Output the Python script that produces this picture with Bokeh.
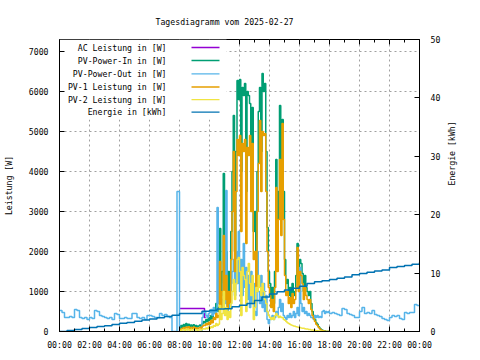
import numpy as np
from bokeh.plotting import figure
from bokeh.models import Range1d, LinearAxis, FixedTicker
from bokeh.embed import file_html
from bokeh.resources import INLINE

FONT = "DejaVu Sans Mono"
FS = "8.2px"

chart_title = "Tagesdiagramm vom 2025-02-27"
y_label = "Leistung [W]"
y2_label = "Energie [kWh]"
hour_ticks = list(range(0, 25, 2))
hour_minor = list(range(0, 25))
hour_labels = ["00:00", "02:00", "04:00", "06:00", "08:00", "10:00", "12:00",
               "14:00", "16:00", "18:00", "20:00", "22:00", "00:00"]
power_ticks = [0, 1000, 2000, 3000, 4000, 5000, 6000, 7000]
energy_ticks = [0, 10, 20, 30, 40, 50]

series_names = ["AC Leistung in [W]", "PV-Power-In in [W]", "PV-Power-Out in [W]",
                "PV-1 Leistung in [W]", "PV-2 Leistung in [W]", "Energie in [kWh]"]
series_colors = ["#9400d3", "#009e73", "#56b4e9", "#e69f00", "#f0e442", "#0072b2"]

# PV-Power-Out, 00:00-07:50 every 10 min
pvout_am = [525, 475, 350, 350, 375, 350,
            550, 525, 350, 325, 350, 300,
            350, 325, 525, 500, 400, 375,
            350, 325, 350, 300, 450, 425,
            325, 325, 350, 325, 325, 450,
            450, 350, 325, 350, 300, 400,
            400, 375, 350, 350, 450, 400,
            425, 375, 350, 0, 0, 3500]

# daytime, 08:00-18:00 every 5 min
pv_in_day = [80, 150, 100, 175, 120, 200, 140, 180, 110, 160, 130, 170,
             120, 150, 110, 140, 160, 130, 200, 250, 220, 300, 250, 350,
             280, 400, 320, 500, 450, 700, 500, 600, 2575, 900, 1500, 3950,
             1200, 2000, 800, 1500, 1000, 2500, 4000, 5400, 2000, 4500, 6275, 5800,
             6300, 4000, 6100, 5900, 6200, 3500, 6000, 5900, 5700, 4200, 5600, 2500,
             3000, 1500, 4000, 5500, 6100, 4500, 6450, 6000, 6200, 4500, 2600, 1500,
             1200, 800, 1100, 700, 1500, 4300, 2000, 3500, 5650, 3000, 5300, 3500,
             1800, 1200, 1300, 900, 1100, 800, 1200, 900, 1000, 1400, 2200, 1300,
             1800, 1700, 1450, 1000, 1400, 1100, 1000, 900, 1000, 700, 500, 400,
             300, 220, 180, 120, 80, 50, 30, 20, 10, 0, 0, 0,
             0]
pv1_day = [40, 60, 80, 100, 70, 110, 90, 120, 70, 100, 80, 110,
           75, 95, 70, 90, 100, 80, 130, 160, 150, 200, 170, 230,
           180, 280, 220, 350, 300, 450, 350, 400, 1750, 600, 1000, 2400,
           800, 1400, 550, 1000, 700, 1800, 3000, 4500, 1500, 3500, 4800, 4400,
           4900, 2500, 4700, 4500, 4800, 2200, 4600, 4400, 4900, 3000, 4700, 1800,
           2000, 1000, 3000, 4200, 5275, 3500, 5000, 4900, 4950, 3500, 2000, 1100,
           900, 600, 800, 500, 1100, 3600, 1500, 2800, 4300, 2400, 5200, 2800,
           1400, 900, 1000, 700, 850, 600, 950, 700, 800, 1100, 2100, 1000,
           1500, 1400, 1200, 800, 1100, 900, 800, 700, 800, 550, 400, 320,
           250, 180, 150, 100, 60, 40, 20, 10, 5, 0, 0, 0,
           0]
pv2_day = [20, 30, 40, 50, 30, 60, 40, 50, 30, 50, 40, 50,
           35, 45, 30, 40, 45, 35, 60, 70, 60, 90, 70, 110,
           80, 120, 100, 150, 130, 200, 150, 180, 650, 300, 450, 1000,
           400, 600, 300, 500, 350, 700, 1000, 1300, 800, 1200, 1800, 1850,
           1500, 400, 1600, 1400, 1300, 500, 1500, 1700, 1200, 900, 1400, 300,
           600, 1100, 1000, 1400, 1100, 900, 1200, 1000, 800, 700, 500, 400,
           350, 300, 350, 300, 400, 450, 400, 350, 380, 350, 350, 300,
           280, 250, 220, 200, 180, 160, 150, 140, 130, 120, 110, 100,
           100, 90, 80, 80, 70, 60, 60, 50, 50, 40, 40, 30,
           30, 20, 20, 15, 10, 10, 5, 5, 0, 0, 0, 0,
           0]
pvout_day = [0, 0, 0, 0, 0, 0, 0, 0, 0, 0, 0, 0,
             0, 0, 0, 0, 0, 0, 350, 475, 500, 400, 350, 450,
             475, 550, 400, 600, 450, 500, 3100, 700, 900, 600, 800, 1200,
             700, 3525, 500, 900, 600, 1200, 1500, 1800, 900, 2000, 1200, 2500,
             1000, 1800, 900, 2200, 1100, 1600, 800, 1400, 600, 1500, 700, 1200,
             500, 400, 2000, 1000, 700, 1400, 600, 1200, 500, 900, 300, 200,
             300, 350, 400, 300, 350, 500, 400, 600, 800, 500, 700, 400,
             350, 300, 400, 350, 450, 350, 400, 500, 350, 450, 600, 400,
             1600, 700, 500, 600, 450, 500, 400, 450, 400, 350, 350, 300,
             400, 350, 400, 350, 375, 350, 500, 525, 450, 500, 475, 500,
             450]
# PV-Power-Out, 18:10-24:00 every 10 min
pvout_pm = [475, 450, 425, 400, 575,
            550, 450, 425, 400, 350, 350,
            500, 600, 450, 475, 450, 525,
            425, 400, 375, 325, 300, 275,
            350, 400, 375, 400, 325, 300,
            475, 450, 475, 475, 675, 650,
            650]

# AC Leistung (visible part)
ac_hours = [8.0, 9.667, 9.75]
ac_watts = [575, 350, 350]

# Energie, every 30 min from 00:00
energy_kwh = [0.0, 0.15, 0.35, 0.5, 0.7, 0.85, 1.0, 1.2, 1.4, 1.55, 1.75, 1.95,
              2.15, 2.35, 2.55, 2.8, 3.1, 3.1, 3.1, 3.45, 3.6, 3.85, 3.9, 4.25,
              4.5, 4.8, 5.3, 5.9, 6.4, 6.8, 7.1, 7.4, 7.75, 8.2, 8.5, 8.7,
              8.9, 9.1, 9.35, 9.7, 9.95, 10.15, 10.35, 10.55, 10.95, 11.15, 11.3, 11.5,
              11.8]

t_am = np.arange(len(pvout_am)) * (10 / 60)
t_day = 8 + np.arange(len(pv_in_day)) * (5 / 60)
t_pm = 18 + np.arange(1, len(pvout_pm) + 1) * (10 / 60)
t_energy = np.arange(len(energy_kwh)) * 0.5

pvout_t = np.concatenate([t_am, t_day, t_pm])
pvout_w = np.concatenate([pvout_am, pvout_day, pvout_pm])

X0, X1 = 0, 24
Y0, Y1 = 0, 7300
E0, E1 = 0, 50

FL, FT, FW, FH = 58, 39, 360, 292  # frame in picture pixels


def hx(sx):
    return X0 + (sx - FL) / FW * (X1 - X0)


def wy(sy):
    return Y0 + (FT + FH - sy) / FH * (Y1 - Y0)


PX_W = (Y1 - Y0) / FH  # watts per pixel

p = figure(frame_width=FW, frame_height=FH,
           x_range=Range1d(X0, X1), y_range=Range1d(Y0, Y1),
           output_backend="svg", toolbar_location=None,
           min_border_left=FL, min_border_right=60,
           min_border_top=FT, min_border_bottom=27,
           background_fill_color="white", border_fill_color="white")
p.extra_y_ranges = {"e": Range1d(E0, E1)}
p.outline_line_color = "black"
p.outline_line_width = 1

p.title.text = chart_title
p.title.align = "left"
p.title.offset = 154 - FL
p.title.text_font = FONT
p.title.text_font_size = FS
p.title.text_font_style = "normal"
p.title.text_color = "black"
p.title.standoff = 26

# axes
xa = p.xaxis[0]
xa.ticker = FixedTicker(ticks=hour_ticks, minor_ticks=hour_minor)
xa.major_label_overrides = {t: l for t, l in zip(hour_ticks, hour_labels)}
ya = p.yaxis[0]
ya.ticker = FixedTicker(ticks=power_ticks)
ya.axis_label = y_label
ra = LinearAxis(y_range_name="e", ticker=FixedTicker(ticks=energy_ticks),
                axis_label=y2_label)
p.add_layout(ra, "right")
try:
    ra.axis_label_orientation = np.pi / 2
except Exception:
    pass

for ax in (xa, ya, ra):
    ax.axis_line_color = "black"
    ax.major_tick_line_color = "black"
    ax.minor_tick_line_color = "black"
    ax.major_tick_in = 5
    ax.major_tick_out = 0
    ax.minor_tick_in = 3
    ax.minor_tick_out = 0
    ax.major_label_text_font = FONT
    ax.major_label_text_font_size = FS
    ax.major_label_text_color = "black"
    ax.major_label_standoff = 11
    ax.axis_label_text_font = FONT
    ax.axis_label_text_font_size = FS
    ax.axis_label_text_font_style = "normal"
    ax.axis_label_text_color = "black"
ya.minor_tick_line_color = None
ra.minor_tick_line_color = None
xa.major_label_standoff = 8
ya.axis_label_standoff = 12
ra.axis_label_standoff = 9

for g in (p.xgrid[0], p.ygrid[0]):
    g.grid_line_color = "#a0a0a0"
    g.grid_line_dash = "2 3"
    g.grid_line_width = 1

# mirrored hour ticks on the top border
p.segment(x0=hour_minor, x1=hour_minor, y0=[Y1] * len(hour_minor),
          y1=[Y1 - (5 if h % 2 == 0 else 3) * PX_W for h in hour_minor],
          line_color="black", line_width=1)

# key background (hides grid behind the key)
p.quad(left=[X0], right=[hx(225)], bottom=[wy(119)], top=[Y1],
       fill_color="white", line_color=None)

# data
p.step(ac_hours, ac_watts, mode="after", line_color=series_colors[0], line_width=1.5)
p.step(t_day, pv_in_day, mode="after", line_color=series_colors[1], line_width=1.5)
p.step(pvout_t, pvout_w, mode="after", line_color=series_colors[2], line_width=1.5)
p.step(t_day, pv1_day, mode="after", line_color=series_colors[3], line_width=1.5)
p.step(t_day, pv2_day, mode="after", line_color=series_colors[4], line_width=1.5)
p.step(t_energy, energy_kwh, mode="after", y_range_name="e",
       line_color=series_colors[5], line_width=1.5)

# key
key_sy = [47, 60, 73.3, 86.5, 99.2, 111.7]
key_y = [wy(s) for s in key_sy]
p.text(x=[hx(165)] * 6, y=key_y, text=series_names, text_align="right",
       text_baseline="middle", text_font={"value": FONT},
       text_font_size={"value": FS}, text_color="black")
p.segment(x0=[hx(190)] * 6, x1=[hx(218)] * 6, y0=key_y, y1=key_y,
          line_color=series_colors, line_width=1.3)

open("out.html", "w").write(file_html(p, INLINE))
